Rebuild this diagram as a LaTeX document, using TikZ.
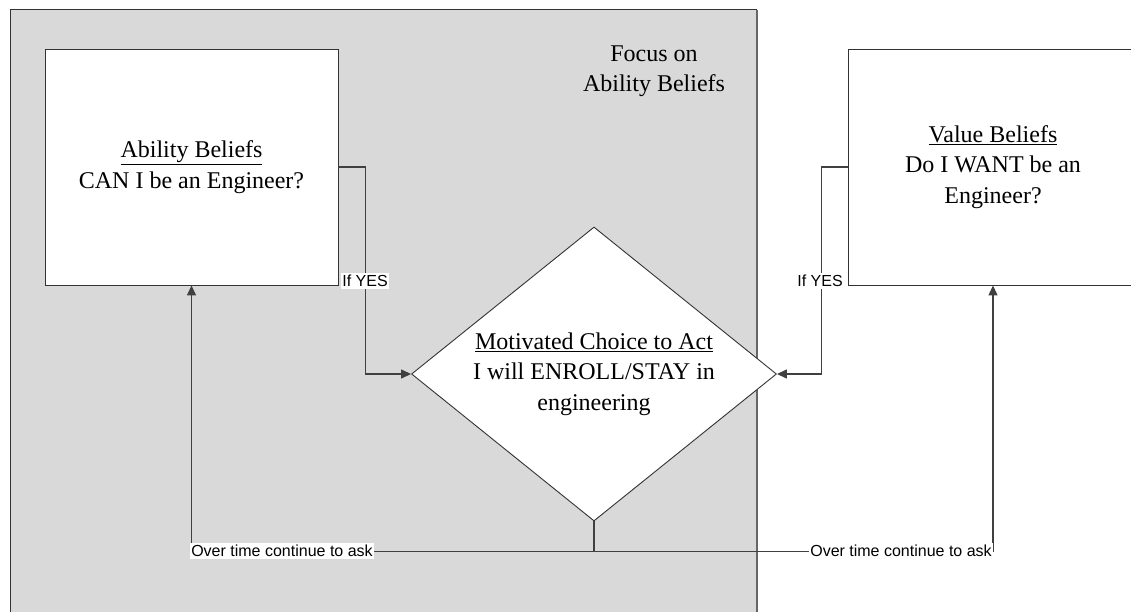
\documentclass[tikz,border=0pt]{standalone}
\usepackage{fontspec}
\setmainfont{Liberation Serif}
\newfontfamily\lsans{Liberation Sans}
\usetikzlibrary{shapes.geometric,arrows.meta}
\begin{document}
\begin{tikzpicture}[x=1pt,y=-1pt,
 box/.style={draw=black!80,line width=0.9pt,fill=white,align=center,font=\fontsize{24}{30.5}\selectfont,inner sep=0pt},
 conn/.style={draw=black!75,line width=1.3pt},
 arr/.style={conn,-{Triangle[length=10pt,width=9pt]}},
 lab/.style={font=\lsans\fontsize{16}{19}\selectfont,fill=white,inner xsep=1.5pt,inner ysep=2pt}
]
\useasboundingbox (0,0) rectangle (1131,612);
\clip (0,0) rectangle (1131,612);
% focus area
\fill[black!15] (10,10) rectangle (757,620);
\draw[black!80,line width=1pt] (10,620) -- (10,10) -- (757,10);
\draw[black!60,line width=2pt] (757,10) -- (757,620);
\node[align=center,font=\fontsize{24}{30}\selectfont] (focus) at (654,71) {Focus on\\Ability Beliefs};
% boxes
\node[box,minimum width=293pt,minimum height=236pt] (lbox) at (191.5,167) {\underline{Ability Beliefs}\\CAN I be an Engineer?};
\node[box,minimum width=290pt,minimum height=236pt] (rbox) at (993,167) {\underline{Value Beliefs}\\Do I WANT be an\\Engineer?};
\node[box,diamond,aspect=1.24,minimum width=365pt,minimum height=294pt] (dia) at (594,374) {\underline{Motivated Choice to Act}\\I will ENROLL/STAY in\\engineering};
% connectors
\draw[arr] (lbox.east) -- ++(27,0) |- (dia.west);
\draw[arr] (rbox.west) -- ++(-26,0) |- (dia.east);
\draw[conn] (dia.south) -- ++(0,30) coordinate (j);
\draw[arr] (j) -| (lbox.south);
\draw[arr] (j) -| (rbox.south);
% labels
\node[lab] (ly1) at (365,281) {If YES};
\node[lab] (ly2) at (820,281) {If YES};
\node[lab] (lo1) at (282,551) {Over time continue to ask};
\node[lab] (lo2) at (901,551) {Over time continue to ask};
\end{tikzpicture}
\end{document}
